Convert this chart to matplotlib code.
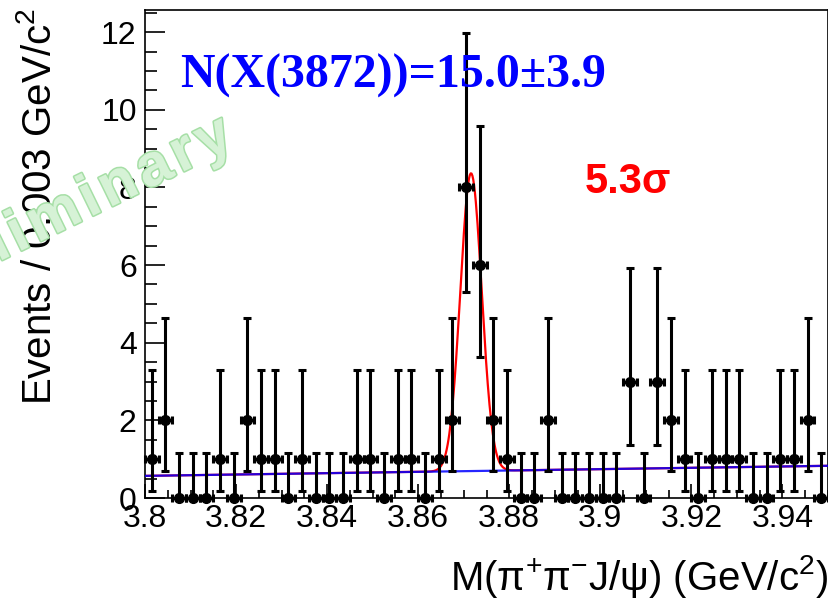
import numpy as np
import matplotlib
matplotlib.use("Agg")
import matplotlib.pyplot as plt
import matplotlib.patheffects as pe
from matplotlib.ticker import MultipleLocator, FuncFormatter

plt.rcParams['font.family'] = ['Liberation Sans', 'DejaVu Sans']
plt.rcParams['mathtext.fontset'] = 'custom'
plt.rcParams['mathtext.rm'] = 'Liberation Sans'
plt.rcParams['mathtext.it'] = 'Liberation Sans:italic'

# binning of the pi+ pi- J/psi mass spectrum
m_lo = 3.80
m_hi = 3.95
bin_w = 0.003

# events per bin
counts = [1, 2, 0, 0, 0, 1, 0, 2, 1, 1,
          0, 1, 0, 0, 0, 1, 1, 0, 1, 1,
          0, 1, 2, 8, 6, 2, 1, 0, 0, 2,
          0, 0, 0, 0, 0, 3, 0, 3, 2, 1,
          0, 1, 1, 1, 0, 0, 1, 1, 2, 0]

# 68% Poisson intervals for the observed counts
pois_lo = {0: 0.0, 1: 0.173, 2: 0.708, 3: 1.367, 6: 3.620, 8: 5.318}
pois_hi = {0: 1.148, 1: 3.300, 2: 4.638, 3: 5.918, 6: 9.584, 8: 11.983}

# fit result: gaussian signal on linear background
n_sig = 15.0
n_sig_err = 3.9
mean = 3.8716
sigma = 0.00234
bkg_at_lo = 0.57
bkg_slope = 1.73   # per GeV
signif = 5.3

centers = m_lo + bin_w * (np.arange(len(counts)) + 0.5)
cnt = np.array(counts, dtype=float)
err_lo = cnt - np.array([pois_lo[c] for c in counts])
err_hi = np.array([pois_hi[c] for c in counts]) - cnt

W, H = 829, 602
fig = plt.figure(figsize=(W / 100, H / 100), dpi=100)
ax = fig.add_axes([145 / W, 1 - 498 / H, (828 - 145) / W, (498 - 10) / H])

xx = np.linspace(m_lo, m_hi, 800)
bkg = bkg_at_lo + bkg_slope * (xx - m_lo)
sig = n_sig * bin_w / (np.sqrt(2 * np.pi) * sigma) * np.exp(-0.5 * ((xx - mean) / sigma) ** 2)
ax.plot(xx, bkg + sig, color='red', lw=1.6, zorder=2)
ax.plot(xx, bkg, color='blue', lw=1.6, alpha=0.85, zorder=3)

eb = ax.errorbar(centers, cnt, yerr=[err_lo, err_hi], xerr=bin_w / 2,
                 fmt='o', color='black', ms=7, elinewidth=2.2,
                 capsize=3, capthick=2.2, zorder=4)
for art in [eb.lines[0]] + list(eb.lines[1]) + list(eb.lines[2]):
    art.set_clip_on(False)

ax.set_xlim(m_lo, m_hi)
ax.set_ylim(0, 12.57)
ax.xaxis.set_major_locator(MultipleLocator(0.02))
ax.xaxis.set_minor_locator(MultipleLocator(0.005))
ax.yaxis.set_major_locator(MultipleLocator(2))
ax.yaxis.set_minor_locator(MultipleLocator(0.5))
ax.xaxis.set_major_formatter(FuncFormatter(lambda v, p: '%g' % round(v, 3)))
ax.tick_params(which='both', direction='in', top=False, right=False,
               labelsize=23, width=1.2)
ax.tick_params(axis='y', which='major', length=14.5, pad=6)
ax.tick_params(axis='y', which='minor', length=8.5)
ax.tick_params(axis='x', which='major', length=10, pad=4)
ax.tick_params(axis='x', which='minor', length=6)
for s in ax.spines.values():
    s.set_linewidth(1.2)

fig.text(40 / W, 1 - 8 / H, 'Events / 0.003 GeV/c$^2$', rotation=90,
         ha='center', va='top', fontsize=29)
fig.text(828 / W, 1 - 600 / H, 'M(\u03c0$^{+}$\u03c0$^{-}$J/\u03c8) (GeV/c$^{2}$)',
         ha='right', va='bottom', fontsize=29)

fig.text(180 / W, 1 - 88 / H, 'N(X(3872))=%.1f\u00b1%.1f' % (n_sig, n_sig_err),
         family='Liberation Serif', weight='bold', fontsize=34.5,
         color='#0000ff', ha='left', va='baseline')
fig.text(585 / W, 1 - 193 / H, '%.1f\u03c3' % signif, weight='bold',
         fontsize=30, color='red', ha='left', va='baseline')

# watermark, letters slightly spread out
mark = '\u200a'.join('Preliminary')
fig.text(236 / W, 1 - 146 / H, mark, family=['Liberation Sans', 'DejaVu Sans'],
         rotation=26, rotation_mode='anchor',
         ha='right', va='baseline', fontsize=43, weight='bold', color='#d6f2d6',
         path_effects=[pe.withStroke(linewidth=2.2, foreground='#a6dfa6')], zorder=10)

fig.savefig('out.png', dpi=100)
